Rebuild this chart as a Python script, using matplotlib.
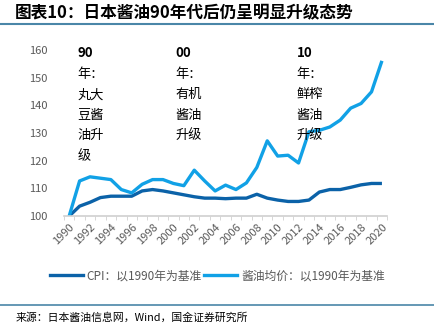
import matplotlib.pyplot as plt
from matplotlib.lines import Line2D

plt.rcParams['font.family'] = ['Noto Sans CJK SC', 'DejaVu Sans']

years = list(range(1990, 2021))
cpi = [100, 103.6, 105, 106.7, 107.2, 107.2, 107.2, 109.1, 109.6, 109.1,
       108.4, 107.7, 107, 106.5, 106.5, 106.3, 106.5, 106.5, 107.9, 106.5,
       105.8, 105.3, 105.3, 105.8, 108.7, 109.6, 109.6, 110.4, 111.3, 111.8,
       111.8]
soy = [100, 112.7, 114.2, 113.7, 113.2, 109.6, 108.4, 111.5, 113.2, 113.2,
       111.8, 111, 116.6, 112.7, 109.1, 111.2, 109.6, 112, 117.6, 127.2,
       121.7, 122, 119.2, 130.5, 131, 132.2, 134.7, 139, 140.7, 144.9,
       156.1]
tick_years = years[::2]
note_x = [1990.8, 2000.2, 2011.8]
note_head = ["90", "00", "10"]
note_body = ["年：\n丸大\n豆酱\n油升\n级", "年：\n有机\n酱油\n升级",
             "年：\n鲜榨\n酱油\n升级"]

dark = "#0b62a8"
light = "#11a1e6"

fig = plt.figure(figsize=(4.35, 3.25), dpi=100)
ax = fig.add_axes([0.147, 0.335, 0.743, 0.511])

ax.plot(years, cpi, color=dark, lw=2.4, solid_capstyle="butt")
ax.plot(years, soy, color=light, lw=2.4, solid_capstyle="butt")

ax.set_xlim(1989.5, 2020.5)
ax.set_ylim(100, 160)
ax.set_yticks(range(100, 161, 10))
ax.set_xticks(tick_years)
ax.set_xticklabels([str(y) for y in tick_years], rotation=45, ha="right",
                   rotation_mode="anchor")
ax.set_xticks([y + 0.5 for y in years[:-1]] + [1989.5, 2020.5], minor=True)
ax.tick_params(axis="x", which="major", length=0, pad=4, labelsize=8,
               labelcolor="#595959")
ax.tick_params(axis="x", which="minor", length=3, color="#d0d0d0")
ax.tick_params(axis="y", length=0, labelsize=8, labelcolor="#595959", pad=12)
for s in ["top", "right", "left"]:
    ax.spines[s].set_visible(False)
ax.spines["bottom"].set_color("#d0d0d0")
ax.spines["bottom"].set_linewidth(1.2)

for x, head, body in zip(note_x, note_head, note_body):
    ax.text(x, 161.5, head, fontsize=9.5, fontweight="bold", va="top",
            ha="left")
    ax.annotate(body, (x, 161.5), xytext=(0, -15.8), textcoords="offset points",
                fontsize=9.5, va="top", ha="left", linespacing=1.75,
                annotation_clip=False)

handles = [Line2D([], [], color=dark, lw=2.4),
           Line2D([], [], color=light, lw=2.4)]
fig.legend(handles, ["CPI：以1990年为基准", "酱油均价：以1990年为基准"],
           loc="center", bbox_to_anchor=(0.5, 0.152), ncol=2, frameon=False,
           fontsize=8.5, handlelength=2.8, columnspacing=0.2, handletextpad=0.3,
           labelcolor="#595959")

fig.text(0.035, 0.962, "图表10：日本酱油90年代后仍呈明显升级态势",
         fontsize=12, fontweight="bold", va="center", ha="left")
fig.add_artist(Line2D([0, 1], [0.925, 0.925], color="#4a86a8", lw=1.5))
fig.add_artist(Line2D([0, 1], [0.062, 0.062], color="#4a86a8", lw=1.2))
fig.text(0.035, 0.022, "来源：日本酱油信息网，Wind，国金证券研究所",
         fontsize=7.8, va="center", ha="left")

fig.savefig("out.png", dpi=100)
